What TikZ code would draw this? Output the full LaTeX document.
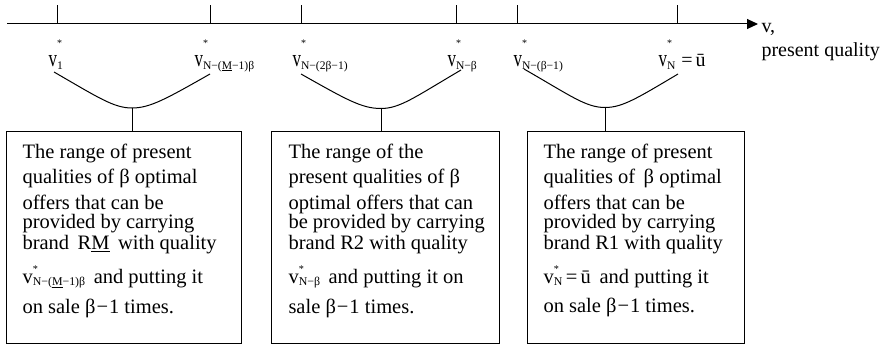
\documentclass[tikz,border=0pt]{standalone}
\usepackage{fontspec}
\setmainfont{Liberation Serif}
\usepackage{graphicx}
\usetikzlibrary{arrows.meta,calc,positioning}
\newcommand{\vsub}[3]{#1\rlap{\raisebox{#2}{\scalebox{.5}{*}}}\raisebox{-.13em}{\scalebox{.58}{#3}}}
\newcommand{\vlab}[1]{\vsub{\scalebox{.85}[1.2]{v}}{.98em}{#1}}
\newcommand{\vin}[1]{\vsub{v}{.54em}{#1}}

\begin{document}
\begin{tikzpicture}[x=1pt,y=-1pt,line width=1pt,
  rangebox/.style={draw,line width=1.1pt,minimum height=212pt,anchor=north west,inner sep=0pt},
  rangetext/.style={anchor=north west,align=left,inner sep=0pt,font=\fontsize{20.5}{19}\selectfont},
  ticklabel/.style={anchor=base west,inner sep=0pt,font=\fontsize{20}{24}\selectfont}]
  \useasboundingbox (0,0) rectangle (893,345);
  \draw[-{Triangle[length=11pt,width=10pt]}] (7,24) -- (758,24);
  \foreach \x in {57,210,301,456,517,677}
    \draw (\x,24) -- (\x,5);
  \node[ticklabel] (l1) at (48,66.5) {\vlab{1}};
  \node[ticklabel] (l2) at (194,66.5) {\vlab{N−(\underline{M}−1)β}};
  \node[ticklabel] (l3) at (292,66.5) {\vlab{N−(2β−1)}};
  \node[ticklabel] (l4) at (447,66.5) {\vlab{N−β}};
  \node[ticklabel] (l5) at (513,66.5) {\vlab{N−(β−1)}};
  \node[ticklabel] (l6) at (658,66.5) {\vlab{N}\hspace{6pt}=\hspace{3pt}ū};
  \node[anchor=north west,align=left,inner sep=0pt,font=\fontsize{20}{24}\selectfont] (ax) at (761,23) {v,\\present quality};
  \coordinate (k1) at (132,108);
  \coordinate (k2) at (381,108.5);
  \coordinate (k3) at (605,107.5);
  \draw (54,72) .. controls (99,98) and (114,108) .. (k1) .. controls (150,108) and (166,99) .. (210,74);
  \draw (301,74) .. controls (347,100) and (362,108.5) .. (k2) .. controls (400,108.5) and (415,97) .. (461,70);
  \draw (524,69) .. controls (571,96) and (586,107.5) .. (k3) .. controls (622,107.5) and (636,99) .. (678,74);
  \node[rangebox,minimum width=235pt] (b1) at (6,131) {};
  \node[rangebox,minimum width=228pt] (b2) at (271,131) {};
  \node[rangebox,minimum width=217pt] (b3) at (527,131) {};
  \draw (k1) -- (k1 |- b1.north);
  \draw (k2) -- (k2 |- b2.north);
  \draw (k3) -- (k3 |- b3.north);
  \node[rangetext] (t1) at (22,144) {The range of present\\[6pt]
    qualities of β optimal\\[7pt]
    offers that can be\\
    provided by carrying\\[2pt]
    brand \,R\underline{M}\, with quality\\[10pt]
    \vin{N−(\underline{M}−1)β}\, and putting it\\[10pt]
    on sale β{\kern1pt}−{\kern1pt}1 times.};
  \node[rangetext] (t2) at (288,144) {The range of the\\[6pt]
    present qualities of β\\[7pt]
    optimal offers that can\\
    be provided by carrying\\[2pt]
    brand R2 with quality\\[10pt]
    \vin{N−β}\, and putting it on\\[10pt]
    sale β{\kern1pt}−{\kern1pt}1 times.};
  \node[rangetext] (t3) at (543,144) {The range of present\\[6pt]
    qualities of \,β optimal\\[7pt]
    offers that can be\\
    provided by carrying\\[2pt]
    brand R1 with quality\\[10pt]
    \vin{N}\,=\,ū\, and putting it\\[10pt]
    on sale β{\kern1pt}−{\kern1pt}1 times.};
\end{tikzpicture}
\end{document}
